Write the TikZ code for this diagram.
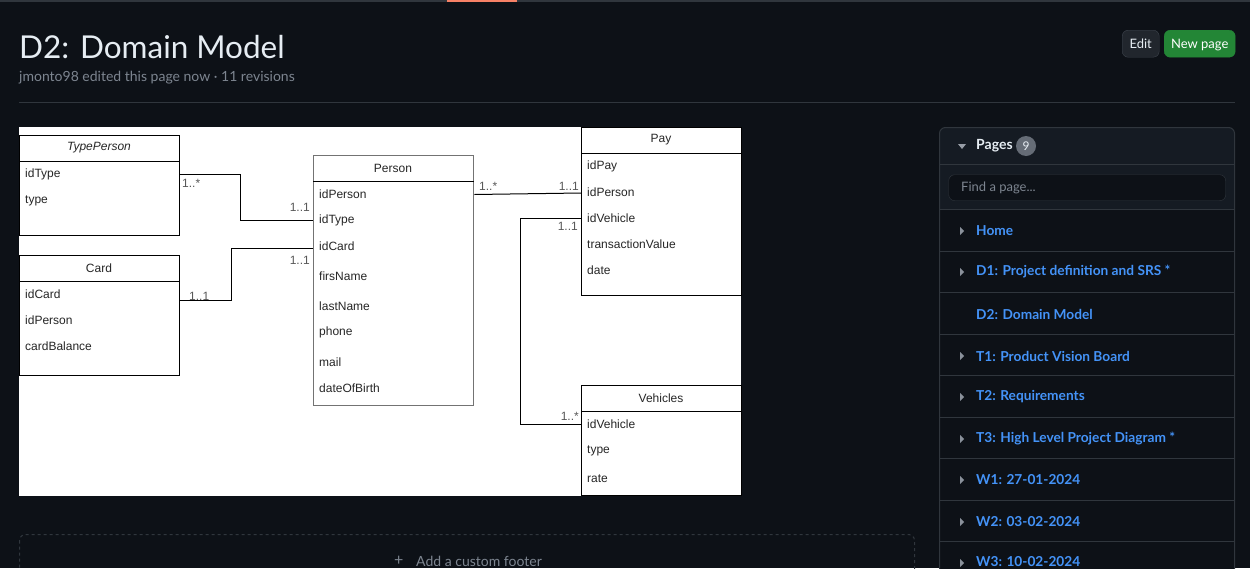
\documentclass[tikz,border=0pt]{standalone}
\usepackage{fontspec}
\setmainfont{Lato}
\newfontfamily\umlf{Liberation Sans}
\usetikzlibrary{calc}
\definecolor{pagebg}{HTML}{0D1117}
\definecolor{panelbg}{HTML}{151B23}
\definecolor{bordc}{HTML}{30363D}
\definecolor{fgc}{HTML}{E6EDF3}
\definecolor{mutedc}{HTML}{7D8590}
\definecolor{linkc}{HTML}{4493F8}
\definecolor{greenc}{HTML}{238636}
\definecolor{btnc}{HTML}{21262D}
\definecolor{btnbord}{HTML}{3D444D}
\definecolor{accentc}{HTML}{F78166}
\definecolor{badgec}{HTML}{656C76}
\begin{document}
\begin{tikzpicture}[x=1pt,y=-1pt,
 cls/.style={draw=black, line width=1pt, fill=white, anchor=north west, inner sep=0pt, minimum width=160},
 hdr/.style={font=\umlf\fontsize{12}{14}\selectfont, text=black!85, anchor=center, inner sep=0},
 attr/.style={font=\umlf\fontsize{12}{14}\selectfont, text=black!85, anchor=west, inner sep=0, yshift=-0.5pt},
 mult/.style={font=\umlf\fontsize{12}{14}\selectfont, text=black!65, inner sep=0},
 conn/.style={draw=black, line width=1pt},
 navlink/.style={font=\bfseries\fontsize{13.7}{16}\selectfont, text=linkc, anchor=west, inner sep=0},
 sepline/.style={draw=bordc, line width=1pt},
 btn/.style={rounded corners=6, minimum height=27, inner sep=0, anchor=north west, font=\fontsize{13}{15}\selectfont, text height=11pt, text depth=2pt}
]
\useasboundingbox (0,0) rectangle (1250,568);
\clip (0,0) rectangle (1250,568);
\fill[pagebg] (0,0) rectangle (1250,568);
% top bar
\fill[bordc] (0,0) rectangle (1250,1.5);
\fill[accentc] (447,0) rectangle (517,2);
% title
\node[anchor=base west, inner sep=0, text=fgc, font=\fontsize{31.5}{38}\selectfont] (title) at (19,58) {D2: Domain Model};
\node[anchor=base west, inner sep=0, text=mutedc, font=\fontsize{14}{16}\selectfont] (subtitle) at (19,81) {jmonto98 edited this page now · 11 revisions};
\draw[sepline] (19,102.5) -- (1235,102.5);
% buttons
\node[btn, draw=btnbord, fill=btnc, minimum width=37, text=fgc] (edit) at (1122,30) {Edit};
\node[btn, draw=greenc, fill=greenc, minimum width=71, text=white] (newpage) at (1164,30) {New page};
% diagram canvas
\fill[white] (19,127) rectangle (741,496);
% classes
\node[cls, minimum height=100] (tp) at (19,135) {};
\draw[line width=1pt] ([yshift=-26pt]tp.north west) -- ([yshift=-26pt]tp.north east);
\node[hdr] (tph) at (99,148) {\itshape TypePerson};
\node[attr] (tpa1) at (25,174) {idType};
\node[attr] (tpa2) at (25,200) {type};

\node[cls, minimum height=120] (card) at (19,255) {};
\draw[line width=1pt] ([yshift=-26pt]card.north west) -- ([yshift=-26pt]card.north east);
\node[hdr] (cardh) at (99,268) {Card};
\node[attr] (carda1) at (25,294) {idCard};
\node[attr] (carda2) at (25,320) {idPerson};
\node[attr] (carda3) at (25,346) {cardBalance};

\node[cls, minimum height=250, draw=black!55, line width=1.3pt] (per) at (313,155) {};
\draw[line width=1pt] ([yshift=-26pt]per.north west) -- ([yshift=-26pt]per.north east);
\node[hdr] (perh) at (393,168) {Person};
\node[attr] (pera1) at (319,194) {idPerson};
\node[attr] (pera2) at (319,220) {idType};
\node[attr] (pera3) at (319,246) {idCard};
\node[attr] (pera4) at (319,276) {firsName};
\node[attr] (pera5) at (319,306) {lastName};
\node[attr] (pera6) at (319,332) {phone};
\node[attr] (pera7) at (319,362) {mail};
\node[attr] (pera8) at (319,388) {dateOfBirth};

\node[cls, minimum height=168] (pay) at (581,127) {};
\draw[line width=1pt] ([yshift=-26pt]pay.north west) -- ([yshift=-26pt]pay.north east);
\node[hdr] (payh) at (661,140) {Pay};
\node[attr] (paya1) at (587,166) {idPay};
\node[attr] (paya2) at (587,192) {idPerson};
\node[attr] (paya3) at (587,218) {idVehicle};
\node[attr] (paya4) at (587,244) {transactionValue};
\node[attr] (paya5) at (587,270) {date};

\node[cls, minimum height=110] (veh) at (581,385) {};
\draw[line width=1pt] ([yshift=-26pt]veh.north west) -- ([yshift=-26pt]veh.north east);
\node[hdr] (vehh) at (661,398) {Vehicles};
\node[attr] (veha1) at (587,424) {idVehicle};
\node[attr] (veha2) at (587,450) {type};
\node[attr] (veha3) at (587,478) {rate};

% connectors
\draw[conn] (tp.east |- 0,174) -- ++(60,0) |- (per.west |- 0,220);
\draw[conn] (card.east |- 0,300) -- ++(51,0) |- (per.west |- 0,248);
\draw[conn] (per.east |- 0,194.5) -- (pay.west |- 0,193);
\draw[conn] (pay.west |- 0,218) -- ++(-61,0) |- (veh.west |- 0,424);
% multiplicities
\node[mult, anchor=west] (m1) at (182,183) {1..*};
\node[mult, anchor=east] (m2) at (310,207) {1..1};
\node[mult, anchor=west] (m3) at (189,296) {1..1};
\node[mult, anchor=east] (m4) at (310,260) {1..1};
\node[mult, anchor=west] (m5) at (479,186) {1..*};
\node[mult, anchor=east] (m6) at (579,186) {1..1};
\node[mult, anchor=east] (m7) at (578,226) {1..1};
\node[mult, anchor=east] (m8) at (579,416) {1..*};

% sidebar
\begin{scope}
\clip[rounded corners=6] (939.5,127.5) rectangle (1234.5,620);
\fill[pagebg] (939.5,127.5) rectangle (1234.5,620);
\fill[panelbg] (939.5,127.5) rectangle (1234.5,209);
\end{scope}
\draw[bordc, line width=1pt, rounded corners=6] (939.5,127.5) rectangle (1234.5,620);
\fill[mutedc!80] (958,144) -- (966,144) -- (962,149) -- cycle;
\node[anchor=west, inner sep=0, text=fgc, font=\bfseries\fontsize{14}{16}\selectfont] (pages) at (976,146) {Pages};
\node[circle, fill=badgec, minimum size=20, inner sep=0, text=fgc, font=\fontsize{12}{14}\selectfont] (badge) at (1026,146) {9};
\draw[sepline] (939.5,164.5) -- (1234.5,164.5);
\node[draw=bordc, fill=pagebg, rounded corners=6, minimum width=277, minimum height=26, inner sep=0, anchor=north west] (search) at (948.5,174.5) {};
\node[anchor=west, inner sep=0, text=mutedc, font=\fontsize{13}{15}\selectfont] (searchtxt) at (961,187.5) {Find a page...};
\draw[sepline] (939.5,209.5) -- (1234.5,209.5);
\foreach \yy in {251.5,292.5,334.5,375.5,417.5,458.5,500.5,541.5}
  \draw[sepline] (939.5,\yy) -- (1234.5,\yy);
\foreach \yy in {231,272,356,397,439,480,522,563}
  \fill[mutedc!90] (960,\yy-4) -- (964,\yy) -- (960,\yy+4) -- cycle;
\node[navlink] (n1) at (976,231) {Home};
\node[navlink] (n2) at (976,272) {D1: Project definition and SRS *};
\node[navlink] (n3) at (976,314) {D2: Domain Model};
\node[navlink] (n4) at (976,356) {T1: Product Vision Board};
\node[navlink] (n5) at (976,397) {T2: Requirements};
\node[navlink] (n6) at (976,439) {T3: High Level Project Diagram *};
\node[navlink] (n7) at (976,480) {W1: 27-01-2024};
\node[navlink] (n8) at (976,522) {W2: 03-02-2024};
\node[navlink] (n9) at (976,562) {W3: 10-02-2024};

% footer
\draw[bordc, dashed, line width=1pt, rounded corners=6] (19.5,534.5) rectangle (914.5,620);
\node[anchor=west, inner sep=0, text=mutedc, font=\fontsize{16}{16}\selectfont] (plus) at (394,561) {+};
\node[anchor=west, inner sep=0, text=mutedc, font=\fontsize{14}{16}\selectfont] (footer) at (416,561) {Add a custom footer};
\end{tikzpicture}
\end{document}
